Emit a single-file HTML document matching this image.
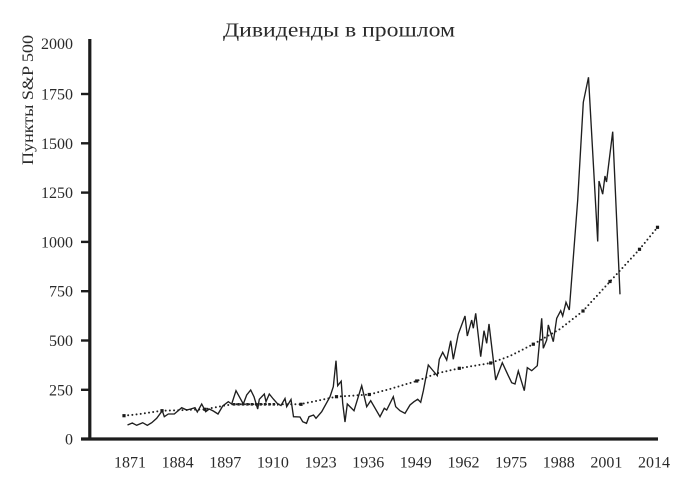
<!DOCTYPE html>
<html>
<head>
<meta charset="utf-8">
<style>
html,body{margin:0;padding:0;background:#fff;}
svg{display:block;}
text{font-family:"Liberation Serif","Noto Serif CJK SC",serif;fill:#2a2a2a;}
</style>
</head>
<body>
<svg width="693" height="493" viewBox="0 0 693 493" xmlns="http://www.w3.org/2000/svg">
<rect width="693" height="493" fill="#fff"/>
<text x="339" y="36.5" font-size="20" text-anchor="middle" textLength="232" lengthAdjust="spacingAndGlyphs">Дивиденды в прошлом</text>
<text transform="translate(33,100) rotate(-90)" font-size="16" text-anchor="middle" textLength="130" lengthAdjust="spacingAndGlyphs">Пункты S&amp;P 500</text>

<!-- y tick labels -->
<g font-size="16" text-anchor="end">
<text x="73" y="49">2000</text>
<text x="73" y="99.5">1750</text>
<text x="73" y="148.8">1500</text>
<text x="73" y="198">1250</text>
<text x="73" y="247.3">1000</text>
<text x="73" y="296.7">750</text>
<text x="73" y="346">500</text>
<text x="73" y="395.3">250</text>
<text x="73" y="444.6">0</text>
</g>

<!-- x tick labels -->
<g font-size="16" text-anchor="middle">
<text x="130" y="467.5">1871</text>
<text x="177.6" y="467.5">1884</text>
<text x="225.3" y="467.5">1897</text>
<text x="272.9" y="467.5">1910</text>
<text x="320.6" y="467.5">1923</text>
<text x="368.2" y="467.5">1936</text>
<text x="415.8" y="467.5">1949</text>
<text x="463.5" y="467.5">1962</text>
<text x="511.1" y="467.5">1975</text>
<text x="558.8" y="467.5">1988</text>
<text x="606.4" y="467.5">2001</text>
<text x="654" y="467.5">2014</text>
</g>

<!-- axes -->
<g stroke="#1c1c1c">
<line x1="89.8" y1="39" x2="89.8" y2="440.5" stroke-width="3.2"/>
<line x1="81" y1="439" x2="658" y2="439" stroke-width="3.2"/>
<g stroke-width="2.4">
<line x1="81" y1="94" x2="90" y2="94"/>
<line x1="81" y1="143.3" x2="90" y2="143.3"/>
<line x1="81" y1="192.6" x2="90" y2="192.6"/>
<line x1="81" y1="241.9" x2="90" y2="241.9"/>
<line x1="81" y1="291.2" x2="90" y2="291.2"/>
<line x1="81" y1="340.5" x2="90" y2="340.5"/>
<line x1="81" y1="389.8" x2="90" y2="389.8"/>
</g>
</g>

<!-- trend (dotted) -->
<polyline fill="none" stroke="#222" stroke-width="2" stroke-linecap="round" stroke-dasharray="0 4.2"
points="124,415.7 140,414 162,410.7 185,410 205,409.3 225,405.5 233,404.3 300,404.3 336.5,396.7 369.3,394.5 390,389 416.7,381 437,373.3 459.3,368.3 490.7,363 510,356 533.3,344.2 560,329 583,311 610,281.5 639.5,249.3 657.5,227.3"/>
<polyline fill="none" stroke="#222" stroke-width="2.6" stroke-dasharray="2.4 2"
points="233,404.3 278,404.3"/>
<g fill="#1a1a1a">
<rect x="122.4" y="414.1" width="3.2" height="3.2"/>
<rect x="160.4" y="409.1" width="3.2" height="3.2"/>
<rect x="203.4" y="407.7" width="3.2" height="3.2"/>
<rect x="299.4" y="402.7" width="3.2" height="3.2"/>
<rect x="334.9" y="395.1" width="3.2" height="3.2"/>
<rect x="367.7" y="392.9" width="3.2" height="3.2"/>
<rect x="415.1" y="379.4" width="3.2" height="3.2"/>
<rect x="457.7" y="366.7" width="3.2" height="3.2"/>
<rect x="489.1" y="361.4" width="3.2" height="3.2"/>
<rect x="531.7" y="342.6" width="3.2" height="3.2"/>
<rect x="581.4" y="309.4" width="3.2" height="3.2"/>
<rect x="608.4" y="279.9" width="3.2" height="3.2"/>
<rect x="637.9" y="247.7" width="3.2" height="3.2"/>
<rect x="655.9" y="225.7" width="3.2" height="3.2"/>
</g>

<!-- actual series -->
<polyline fill="none" stroke="#1e1e1e" stroke-width="1.35" stroke-linejoin="miter" stroke-miterlimit="4"
points="127.5,425 132.3,423 136.7,425.3 142.7,422.7 147.3,425.3 151.7,422.7 156.7,418.3 162.3,410.7 164.3,416.7 168.3,414 174.3,414 181.7,407.7 186.7,410 190.7,409 195,407.7 197.3,412 201.7,404 205.7,411.7 209.3,409 213.3,411 218,414 222.7,406 228.3,401.7 231.7,404 236,390.7 239.3,396.7 243.3,404 246.7,395 250.7,390 254,396.7 257.7,409 259.3,399.3 264.3,394 266,401.7 269.3,394 273.3,399 277.7,404 281,405.5 285,398.5 286.7,406.7 291,399.5 293.5,416.7 300,417 302.7,421.7 306.5,423.3 309,416.7 313.5,415 316,418.3 321.7,411.7 330,396.7 333.3,386.7 336,360.7 337.7,385.7 341.2,381.2 342.7,403.3 345,422 347.3,404 354,410.7 361.7,385.7 366.7,406.7 370.7,400.7 380,416.7 384.3,408.3 386.7,410 393.3,396.7 395.7,406.7 400,410.7 405,413.3 410,405 414,401.7 417.7,399.3 420.7,402.3 423.3,391 428.3,365 433.3,371 437.3,375.7 439.3,359.3 442.7,352.3 446.7,360 450.7,340.7 453.3,359.3 458.3,334 465,316 467.3,336 471.7,320 473.3,328.3 475.7,313.3 480.7,356.7 484,330.7 486.7,343.3 489,324 495.7,380 502.3,362.7 508.3,375.7 511.7,382.7 515,384 518.3,371 524.3,390.7 527.3,367.7 531.7,370.7 537.3,365.7 539,347.3 541.7,318.3 543.3,348.3 546.7,340 548.3,325 553.3,341.7 556.7,318.3 560.7,310.7 562.7,316 566,302.3 569.3,310 577.7,200 583.3,102.3 588.5,77.3 597.7,241.5 599,181 602.7,194.2 605,176 606.5,182 612.7,131.7 620,294.3"/>
</svg>
</body>
</html>
